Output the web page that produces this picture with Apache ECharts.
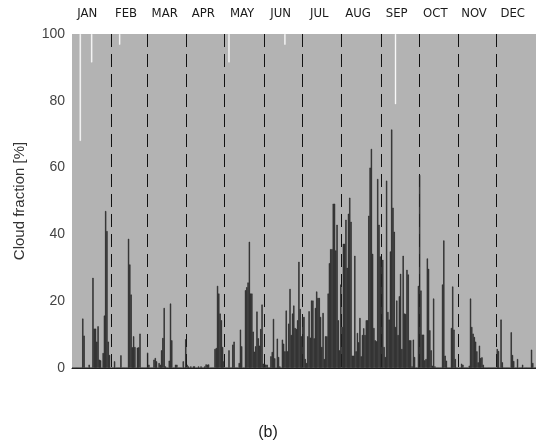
<!DOCTYPE html>
<html>
<head>
<meta charset="utf-8">
<script src="https://cdn.jsdelivr.net/npm/echarts@6/dist/echarts.min.js"></script>
<style>
html, body { margin: 0; padding: 0; background: #fff; }
#chart { width: 536px; height: 445px; }
</style>
</head>
<body>
<div id="chart"></div>
<script>
// month labels and lengths
var monthNames = ['JAN', 'FEB', 'MAR', 'APR', 'MAY', 'JUN', 'JUL', 'AUG', 'SEP', 'OCT', 'NOV', 'DEC'];
var monthDays = [31, 28, 31, 30, 31, 30, 31, 31, 30, 31, 30, 31];
var yTicks = [0, 20, 40, 60, 80, 100];

// daily cloud fraction [%], one array per month
var jan = [0, 0, 0, 0, 0, 0, 0, 0, 14.8, 9.7, 0, 0, 0, 1, 0, 0, 27, 11.8, 11.8, 7.9, 12.5, 2.5, 2.3, 0, 4.5, 15.7, 47, 41, 7.9, 3.9, 0];
var feb = [0, 0, 2, 0, 0, 0, 0, 3.8, 0, 0, 0, 0, 0, 38.7, 31, 22, 6.2, 9.5, 6.3, 0, 6.1, 6.2, 10.3, 0, 0, 0, 0, 0];
var mar = [4.6, 1, 0, 0, 0, 2.5, 3, 2, 0, 1.5, 1, 5.3, 9, 18, 0.5, 0, 0, 2.2, 19.3, 8.3, 0, 0, 1, 1, 0, 0, 0, 0, 2, 0, 8.6];
var apr = [1, 0.5, 0, 0.5, 0, 0.5, 0.5, 0, 0, 0.5, 0, 0.5, 0, 0, 0.5, 1.1, 1, 1.1, 0, 0, 0, 0, 5.7, 6, 24.6, 22.3, 16.3, 14.3, 6.3, 2];
var may = [0, 0, 0, 5.3, 0, 0, 7, 7.9, 0, 0, 0, 1.5, 11.5, 6.5, 0, 0, 23.3, 24.2, 25.6, 37.8, 22.3, 22.3, 10.9, 4.9, 6.5, 16.9, 8.9, 6.7, 11.7, 19, 1.3];
var jun = [1.3, 1, 1, 0, 0, 3.5, 4.8, 14.7, 2.9, 0, 8.8, 3.3, 0.5, 0, 8.5, 7.3, 5, 17.2, 5, 13.3, 23.7, 9.9, 16.3, 18.7, 12, 11.7, 14.3, 31.8, 17.7, 9.5];
var jul = [15.3, 15.3, 2.7, 1.5, 9.5, 17, 9.1, 20.2, 20.2, 8.9, 18, 22.9, 21, 21, 15.3, 6.3, 16.5, 2.7, 9.5, 9.5, 22.3, 31.4, 35.6, 35.6, 49.2, 49.2, 35.2, 42.9, 14.3, 5.3, 25];
var aug = [12.3, 37.2, 37.2, 44.4, 30, 46.2, 51, 43.8, 3.7, 3.7, 33.6, 5, 10.5, 7.7, 15, 3.5, 9.9, 11.9, 9.9, 14.3, 14.3, 45.6, 60, 65.6, 34.2, 12, 8.3, 8, 56.6, 42.9, 33.4];
var sep = [32.4, 32.4, 6.3, 3.3, 56.1, 16.8, 14.5, 34.9, 71.4, 48, 40.8, 12.3, 20.2, 9.9, 21.5, 28.2, 5.7, 33.6, 16.3, 16.2, 29.4, 28, 8.3, 8.3, 0.5, 8.5, 3.3, 0, 0, 24.6];
var oct = [57.8, 23.2, 10, 10, 2.3, 2.7, 32.8, 29.7, 11.3, 5.3, 0.7, 20.8, 0.5, 0, 0, 0, 0, 0, 25, 38.2, 3.7, 2.2, 0, 0, 0, 12, 24.4, 11.5, 2.7, 0, 0];
var nov = [0, 0, 1.3, 1, 0, 0, 0, 0, 0.7, 20.8, 12.3, 10.3, 9.3, 7.9, 5, 1.7, 6.7, 3, 3.2, 1, 0, 0, 0, 0, 0, 0, 0, 0, 0, 0];
var dec = [5.7, 5.1, 0, 14.5, 1.7, 0, 0, 0, 0, 0, 0, 10.7, 3.9, 2.1, 0, 0, 2.7, 0, 0, 0, 1, 0, 0, 0, 0, 0, 0, 5.5, 1.5, 0, 0];

// white bars hanging from 100 % (day of year, 0-based, and length in %)
var gapDays = [6, 15, 37, 123, 167, 254];
var gapValues = [32, 8.5, 3.2, 8.5, 3.2, 21];

var cloud = jan.concat(feb, mar, apr, may, jun, jul, aug, sep, oct, nov, dec);
var days = cloud.map(function(v, i) { return i + 1; });
var gaps = cloud.map(function() { return null; });
gapDays.forEach(function(d, k) { gaps[d] = gapValues[k]; });

var monthStarts = [];
var acc = 0;
monthDays.forEach(function(n) { acc += n; monthStarts.push(acc); });

var font = '"Liberation Sans", Arial, Helvetica, sans-serif';

var option = {
	animation: false,
	grid: {
		left: 72, right: 0, top: 34, bottom: 77,
		show: true, backgroundColor: '#b3b3b3', borderWidth: 0
	},
	title: {
		text: '(b)',
		left: 'center',
		top: 420,
		textStyle: { fontFamily: font, fontSize: 16, fontWeight: 'normal', color: '#222' }
	},
	xAxis: [{
		type: 'category',
		data: days,
		axisLine: { show: true, lineStyle: { color: '#222', width: 1 } },
		axisTick: { show: false },
		axisLabel: { show: false },
		splitLine: {
			show: true,
			interval: function(i) { return i < 365 && monthStarts.indexOf(i) >= 0; },
			lineStyle: { color: '#111', width: 1, type: [13, 7] }
		}
	}, {
		type: 'category',
		position: 'top',
		data: monthNames,
		axisLine: { show: false },
		axisTick: { show: false },
		axisLabel: {
			margin: 14,
			padding: [0, 8, 0, 0],
			fontFamily: '"Liberation Sans Narrow", "DejaVu Sans Condensed", ' + font,
			fontSize: 13,
			color: '#1a1a1a'
		}
	}],
	yAxis: [{
		type: 'value',
		min: yTicks[0],
		max: yTicks[yTicks.length - 1],
		interval: 20,
		name: 'Cloud fraction [%]',
		nameLocation: 'middle',
		nameGap: 45,
		nameTextStyle: { fontFamily: font, fontSize: 15, color: '#333' },
		axisLine: { show: false },
		axisTick: { show: false },
		splitLine: { show: false },
		axisLabel: { margin: 7, fontFamily: font, fontSize: 14, color: '#444' }
	}, {
		type: 'value',
		min: 0,
		max: 100,
		inverse: true,
		show: false
	}],
	series: [{
		name: 'cloud',
		type: 'bar',
		data: cloud,
		barCategoryGap: '0%',
		barGap: '-100%',
		itemStyle: { color: '#262626', borderColor: '#262626', borderWidth: 0.6 }
	}, {
		name: 'gap',
		type: 'bar',
		yAxisIndex: 1,
		data: gaps,
		barCategoryGap: '0%',
		barGap: '-100%',
		itemStyle: { color: '#ffffff', borderColor: '#ffffff', borderWidth: 0.4 }
	}]
};

var myChart = echarts.init(document.getElementById('chart'));
myChart.setOption(option);
</script>
</body>
</html>
